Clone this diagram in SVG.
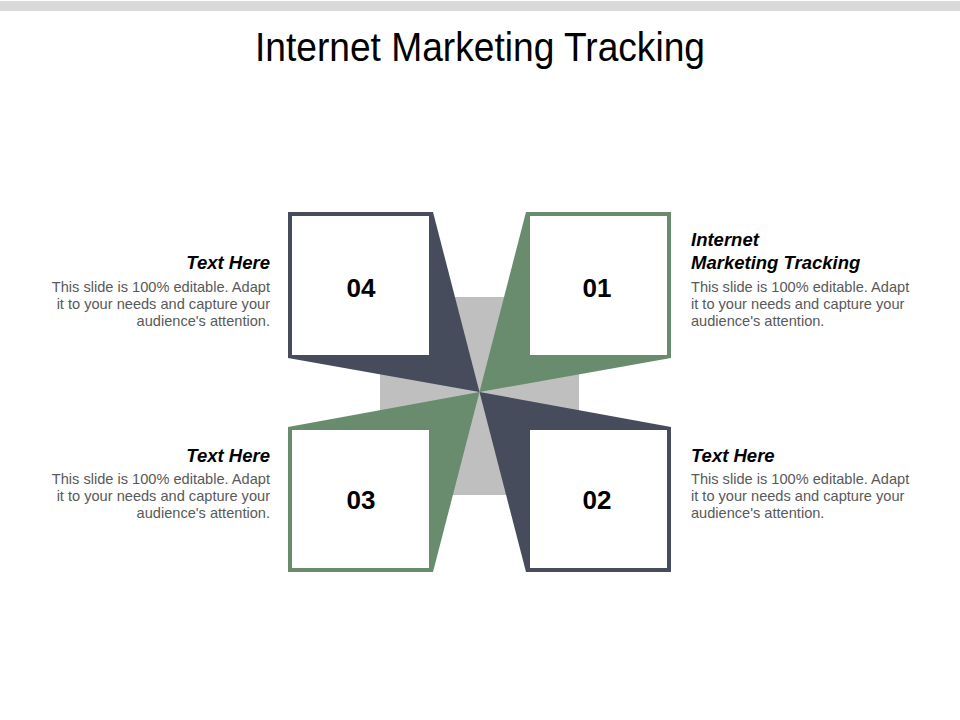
<svg xmlns="http://www.w3.org/2000/svg" width="960" height="720" viewBox="0 0 960 720">
<style>
.title{font-family:"Liberation Sans",Arial,sans-serif;font-size:40px;fill:#000}
.num{font-family:"Liberation Sans",Arial,sans-serif;font-size:26px;font-weight:bold;fill:#000;text-anchor:middle}
.head{font-family:"Liberation Sans",Arial,sans-serif;font-size:18.5px;font-weight:bold;font-style:italic;fill:#000}
.body{font-family:"Liberation Sans",Arial,sans-serif;font-size:14.6px;fill:#595959}
.dark{fill:#474c5c}
.green{fill:#6a8c6e}
.inner{fill:#ffffff}
.end{text-anchor:end}
</style>
<rect x="0" y="1" width="960" height="10" fill="#d9d9d9"/>
<text class="title" x="480" y="61" text-anchor="middle" textLength="450" lengthAdjust="spacingAndGlyphs">Internet Marketing Tracking</text>
<rect x="380" y="297" width="199" height="198" fill="#bfbfbf"/>
<g id="node-04">
<polygon class="dark" points="288,212 433,212 479.5,392 288,358"/>
<rect class="inner" x="292" y="216" width="137" height="139"/>
<text class="num" x="361" y="297">04</text>
</g>
<g id="node-01">
<polygon class="green" points="526,212 671,212 671,358 479.5,392"/>
<rect class="inner" x="530" y="216" width="137" height="139"/>
<text class="num" x="597" y="297">01</text>
</g>
<g id="node-03">
<polygon class="green" points="288,427 479.5,392 433,572 288,572"/>
<rect class="inner" x="292" y="430" width="137" height="138"/>
<text class="num" x="361" y="509">03</text>
</g>
<g id="node-02">
<polygon class="dark" points="479.5,392 671,427 671,572 526,572"/>
<rect class="inner" x="530" y="430" width="137" height="138"/>
<text class="num" x="597" y="509">02</text>
</g>
<g id="text-04">
<text class="head end" x="270" y="269">Text Here</text>
<text class="body end" x="270" y="292">This slide is 100% editable.  Adapt</text>
<text class="body end" x="270" y="309">it to your needs and capture your</text>
<text class="body end" x="270" y="326">audience's attention.</text>
</g>
<g id="text-01">
<text class="head" x="691" y="246">Internet</text>
<text class="head" x="691" y="269">Marketing Tracking</text>
<text class="body" x="691" y="292">This slide is 100% editable.  Adapt</text>
<text class="body" x="691" y="309">it to your needs and capture your</text>
<text class="body" x="691" y="326">audience's attention.</text>
</g>
<g id="text-03">
<text class="head end" x="270" y="462">Text Here</text>
<text class="body end" x="270" y="484">This slide is 100% editable.  Adapt</text>
<text class="body end" x="270" y="501">it to your needs and capture your</text>
<text class="body end" x="270" y="518">audience's attention.</text>
</g>
<g id="text-02">
<text class="head" x="691" y="462">Text Here</text>
<text class="body" x="691" y="484">This slide is 100% editable.  Adapt</text>
<text class="body" x="691" y="501">it to your needs and capture your</text>
<text class="body" x="691" y="518">audience's attention.</text>
</g>
<g id="connectors"></g>
</svg>
